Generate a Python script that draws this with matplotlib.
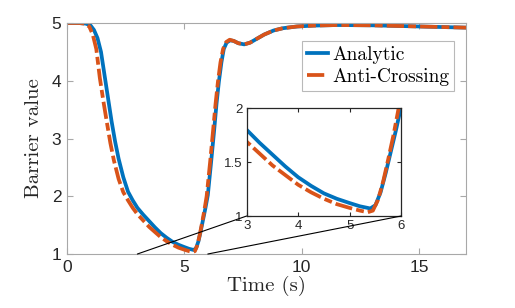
import matplotlib
matplotlib.use("Agg")
import matplotlib.pyplot as plt
from matplotlib.patches import ConnectionPatch

# Barrier value over time
t_analytic = [0, 0.5, 0.8, 1.0, 1.15, 1.3, 1.45, 1.6, 1.75, 1.9, 2.05, 2.2, 2.4, 2.6,
              2.8, 3.0, 3.25, 3.5, 3.75, 4.0, 4.25, 4.5, 4.75, 5.0, 5.2, 5.4, 5.5,
              5.6, 5.7, 5.8, 5.9, 6.0, 6.13, 6.26, 6.37, 6.47, 6.58, 6.68, 6.8,
              6.95, 7.1, 7.3, 7.55, 7.8, 8.1, 8.4, 8.8, 9.2, 9.8, 10.5, 11.5, 13,
              15, 17]
v_analytic = [5.0, 5.0, 4.99, 4.96, 4.88, 4.74, 4.5, 4.1, 3.7, 3.3, 2.95, 2.65, 2.33,
              2.08, 1.93, 1.80, 1.68, 1.57, 1.46, 1.36, 1.28, 1.21, 1.16, 1.12, 1.09,
              1.07, 1.10, 1.22, 1.40, 1.60, 1.80, 2.02, 2.55, 3.1, 3.6, 3.98, 4.32,
              4.55, 4.66, 4.70, 4.69, 4.65, 4.63, 4.66, 4.73, 4.80, 4.87, 4.91, 4.94,
              4.955, 4.965, 4.96, 4.94, 4.92]

t_anti = [0, 0.5, 0.75, 0.95, 1.1, 1.25, 1.4, 1.55, 1.7, 1.85, 2.0, 2.2, 2.4, 2.6,
          2.8, 3.0, 3.25, 3.5, 3.75, 4.0, 4.25, 4.5, 4.75, 5.0, 5.2, 5.35, 5.45,
          5.55, 5.65, 5.75, 5.85, 5.95, 6.1, 6.22, 6.33, 6.43, 6.54, 6.65, 6.78,
          6.93, 7.1, 7.3, 7.55, 7.8, 8.1, 8.4, 8.8, 9.2, 9.8, 10.5, 11.5, 13, 15, 17]
v_anti = [5.0, 5.0, 4.99, 4.94, 4.8, 4.55, 4.05, 3.65, 3.28, 2.92, 2.62, 2.3, 2.07,
          1.93, 1.80, 1.69, 1.58, 1.47, 1.38, 1.29, 1.22, 1.16, 1.11, 1.075, 1.05,
          1.035, 1.05, 1.15, 1.32, 1.53, 1.75, 2.0, 2.6, 3.12, 3.6, 3.98, 4.32,
          4.55, 4.67, 4.71, 4.69, 4.65, 4.63, 4.66, 4.73, 4.80, 4.87, 4.91, 4.94,
          4.955, 4.965, 4.96, 4.94, 4.92]

x_ticks = [0, 5, 10, 15]
y_ticks = [1, 2, 3, 4, 5]
inset_x_ticks = [3, 4, 5, 6]
inset_y_ticks = [1, 1.5, 2]

blue = "#0072BD"
orange = "#D95319"
lw = 2.7
dashdot = (0, (4.6, 1.1, 2.1, 1.1))
serif = "cmr10"
sans = ["Liberation Sans", "DejaVu Sans"]

fig = plt.figure(figsize=(5.15, 3.08), dpi=100)
ax = fig.add_axes([0.130, 0.1753, 0.775, 0.75])

ax.plot(t_analytic, v_analytic, color=blue, lw=lw, label="Analytic")
ax.plot(t_anti, v_anti, color=orange, lw=lw, linestyle=dashdot, label="Anti-Crossing")

ax.set_xlim(0, 17)
ax.set_ylim(1, 5)
ax.set_xticks(x_ticks)
ax.set_yticks(y_ticks)
for s in ax.spines.values():
    s.set_color("#a8a8a8")
    s.set_linewidth(0.8)
ax.tick_params(direction="in", length=4, width=0.8, color="#a8a8a8",
               top=True, right=True, labelsize=12.5, labelcolor="#262626", pad=4)
for lbl in ax.get_xticklabels() + ax.get_yticklabels():
    lbl.set_family(sans)

ax.set_xlabel("Time (s)", family=serif, fontsize=15, color="#262626", labelpad=1)
ax.set_ylabel("Barrier value", family=serif, fontsize=15, color="#262626", labelpad=6)

leg = ax.legend(loc="upper right", bbox_to_anchor=(0.97, 0.922), borderaxespad=0,
                fancybox=False, prop={"family": serif, "size": 14},
                handlelength=1.1, handletextpad=0.2, borderpad=0.25, labelspacing=0.2)
leg.get_frame().set_edgecolor("#a8a8a8")
leg.get_frame().set_linewidth(0.8)

# inset zoom
axi = fig.add_axes([0.479, 0.2987, 0.300, 0.3497])
axi.plot(t_analytic, v_analytic, color=blue, lw=lw)
axi.plot(t_anti, v_anti, color=orange, lw=lw, linestyle=dashdot)
axi.set_xlim(3, 6)
axi.set_ylim(1, 2)
axi.set_xticks(inset_x_ticks)
axi.set_yticks(inset_y_ticks)
axi.set_yticklabels(["1", "1.5", "2"])
for s in axi.spines.values():
    s.set_color("#262626")
    s.set_linewidth(0.9)
axi.tick_params(direction="in", length=3, width=0.8, color="#262626",
                top=True, right=True, labelsize=9.5, labelcolor="#262626", pad=3)
for lbl in axi.get_xticklabels() + axi.get_yticklabels():
    lbl.set_family(sans)

for x in [3, 6]:
    con = ConnectionPatch(xyA=(x, 1), coordsA=ax.transData,
                          xyB=(x, 1), coordsB=axi.transData,
                          color="black", lw=0.8)
    fig.add_artist(con)

plt.savefig("out.png", dpi=100)
